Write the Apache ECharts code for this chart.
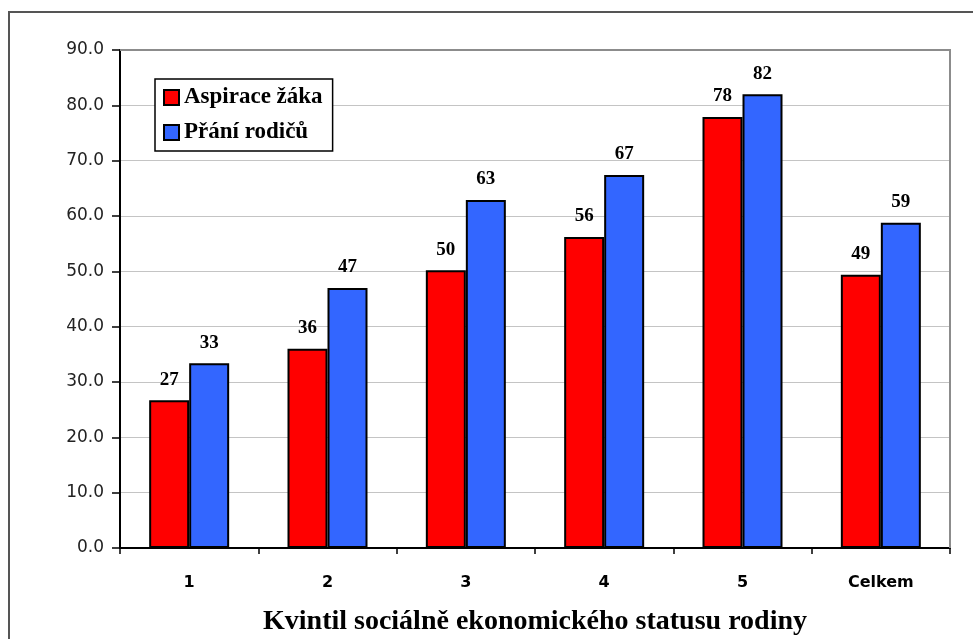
<!DOCTYPE html>
<html>
<head>
<meta charset="utf-8">
<script src="https://cdn.jsdelivr.net/npm/echarts@6/dist/echarts.min.js"></script>
<style>
  html, body { margin: 0; padding: 0; background: #fff; }
  #chart { width: 973px; height: 639px; }
</style>
</head>
<body>
<div id="chart"></div>
<script>
// data
const categories = ['1', '2', '3', '4', '5', 'Celkem']
const aspirace = [26.7, 36.0, 50.2, 56.2, 77.9, 49.4]
const prani = [33.4, 47.0, 62.9, 67.4, 82.0, 58.8]
const seriesNames = ['Aspirace žáka', 'Přání rodičů']

let myChart = echarts.init(document.getElementById('chart'))

let labelStyle = {
  show: true,
  position: 'top',
  distance: 11,
  color: '#000',
  fontFamily: 'Liberation Serif',
  fontWeight: 'bold',
  fontSize: 19,
  formatter: p => Math.round(p.value)
}

var option = {
  animation: false,
  graphic: [
    {
      type: 'rect',
      shape: { x: 9, y: 12, width: 1100, height: 800 },
      style: { fill: 'none', stroke: '#555', lineWidth: 2 },
      silent: true
    },
    {
      // plot frame (gray top/right)
      type: 'polyline',
      shape: { points: [[120, 50], [950, 50], [950, 548]] },
      style: { stroke: '#8c8c8c', lineWidth: 2, fill: 'none' },
      z: 5,
      silent: true
    }
  ],
  legend: {
    orient: 'vertical',
    left: 155,
    top: 79,
    icon: 'rect',
    itemWidth: 15,
    itemHeight: 15,
    itemGap: 12,
    padding: [7, 10, 7, 8],
    borderColor: '#000',
    borderWidth: 1.5,
    backgroundColor: '#fff',
    textStyle: {
      fontFamily: 'Liberation Serif',
      fontWeight: 'bold',
      fontSize: 23,
      color: '#000'
    },
    data: seriesNames
  },
  grid: {
    left: 120,
    right: 23,
    top: 50,
    bottom: 91,
    outerBoundsMode: 'none'
  },
  xAxis: {
    type: 'category',
    data: categories,
    name: 'Kvintil sociálně ekonomického statusu rodiny',
    nameLocation: 'middle',
    nameGap: 60,
    nameTextStyle: {
      fontFamily: 'Liberation Serif',
      fontWeight: 'bold',
      fontSize: 28,
      color: '#000'
    },
    axisLine: { lineStyle: { color: '#000', width: 2 } },
    axisTick: { show: true, length: 6, lineStyle: { color: '#000', width: 1.5 } },
    axisLabel: {
      margin: 27,
      fontFamily: 'DejaVu Sans',
      fontWeight: 'bold',
      fontSize: 16,
      color: '#000'
    }
  },
  yAxis: {
    type: 'value',
    min: 0,
    max: 90,
    interval: 10,
    axisLine: { show: true, lineStyle: { color: '#000', width: 2 } },
    axisTick: { show: true, length: 8, lineStyle: { color: '#000', width: 1.5 } },
    axisLabel: {
      margin: 16,
      fontFamily: 'DejaVu Sans',
      fontSize: 17,
      color: '#222',
      formatter: v => v.toFixed(1)
    },
    splitLine: { lineStyle: { color: '#c4c4c4', width: 1 } }
  },
  series: [
    {
      name: seriesNames[0],
      type: 'bar',
      data: aspirace,
      barWidth: 40,
      barGap: '0%',
      itemStyle: { color: '#ff0000', borderColor: '#000', borderWidth: 2 },
      label: labelStyle
    },
    {
      name: seriesNames[1],
      type: 'bar',
      data: prani,
      barWidth: 40,
      barGap: '0%',
      itemStyle: { color: '#3366ff', borderColor: '#000', borderWidth: 2 },
      label: labelStyle
    }
  ]
}

myChart.setOption(option, true)
</script>
</body>
</html>
